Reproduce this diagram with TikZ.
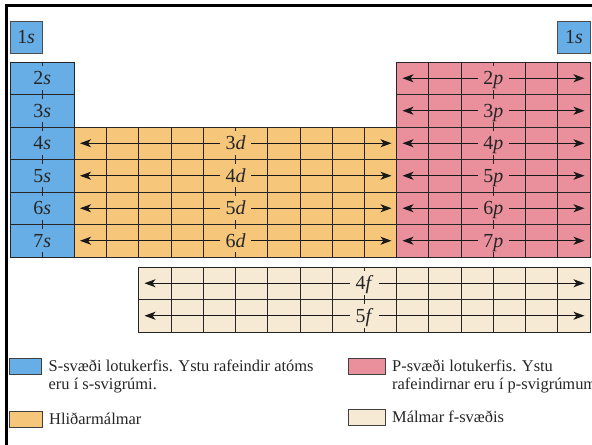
\documentclass[tikz,border=0pt]{standalone}
\usepackage{fontspec}
\setmainfont{Liberation Serif}
\usetikzlibrary{arrows.meta}
\definecolor{sblue}{RGB}{104,174,230}
\definecolor{dorange}{RGB}{246,199,122}
\definecolor{ppink}{RGB}{234,143,156}
\definecolor{fbeige}{RGB}{246,234,212}
\begin{document}
\begin{tikzpicture}[x=1bp,y=-1bp,
  gridline/.style={draw=black!85, line width=0.9bp},
  lab/.style={font=\fontsize{20}{22}\selectfont, text=black!85, inner xsep=5bp, inner ysep=2.5bp, text height=16bp, text depth=2.5bp},
  arr/.style={draw=black!90, line width=1bp, -{Stealth[length=11bp,width=8bp,inset=3bp]}},
  hbox/.style={draw=black!70, line width=0.8bp, fill=sblue, minimum width=32.2bp, minimum height=32bp, inner sep=0pt, font=\fontsize{20}{22}\selectfont, text=black!85, text height=16bp, text depth=2.5bp},
  legbox/.style={draw=black!75, line width=0.8bp, minimum height=16bp, inner sep=0pt},
  legtext/.style={font=\fontsize{16.5}{18.5}\selectfont, inner sep=0pt, align=left, anchor=north west, text=black!85}
]
\def\cw{32.2222}
\def\rh{32.5}
\useasboundingbox (0,0) rectangle (592,445);
\fill[white] (0,0) rectangle (592,445);
% frame
\draw[line width=3bp] (6.5,445) -- (6.5,5.5) -- (592,5.5);

% 1s boxes
\node[hbox] (h1l) at (26.11,37) {1\textit{s}};
\node[hbox] (h1r) at (573.89,37) {1\textit{s}};

% s-block
\fill[sblue] (10,62) rectangle (74.44,257);
\foreach \k in {1,...,5} \draw[gridline] (10,{62+\k*\rh}) -- (74.44,{62+\k*\rh});
\draw[gridline] (42.22,62) -- (42.22,257);
\draw[gridline] (10,62) rectangle (74.44,257);
\foreach \n [count=\k from 0] in {2,...,7}
  \node[lab, fill=sblue] (s\n) at (42.22,{78.25+\k*\rh}) {\n\textit{s}};

% d-block
\fill[dorange] (74.44,127) rectangle (396.67,257);
\foreach \i in {1,...,9} \draw[gridline] ({74.44+\i*\cw},127) -- ({74.44+\i*\cw},257);
\foreach \k in {1,2,3} \draw[gridline] (74.44,{127+\k*\rh}) -- (396.67,{127+\k*\rh});
\draw[gridline] (74.44,127) rectangle (396.67,257);
\foreach \n [count=\k from 0] in {3,...,6} {
  \node[lab, fill=dorange] (d\n) at (235.56,{143.25+\k*\rh}) {\n\textit{d}};
  \coordinate (d\n L) at (80,{143.25+\k*\rh});
  \coordinate (d\n R) at (391.5,{143.25+\k*\rh});
  \draw[arr] (d\n.west) -- (d\n L);
  \draw[arr] (d\n.east) -- (d\n R);
}

% p-block
\fill[ppink] (396.67,62) rectangle (590,257);
\foreach \i in {1,...,5} \draw[gridline] ({396.67+\i*\cw},62) -- ({396.67+\i*\cw},257);
\foreach \k in {1,...,5} \draw[gridline] (396.67,{62+\k*\rh}) -- (590,{62+\k*\rh});
\draw[gridline] (396.67,62) rectangle (590,257);
\foreach \n [count=\k from 0] in {2,...,7} {
  \node[lab, fill=ppink] (p\n) at (493.33,{78.25+\k*\rh}) {\n\textit{p}};
  \coordinate (p\n L) at (402.5,{78.25+\k*\rh});
  \coordinate (p\n R) at (584.5,{78.25+\k*\rh});
  \draw[arr] (p\n.west) -- (p\n L);
  \draw[arr] (p\n.east) -- (p\n R);
}

% f-block
\fill[fbeige] (138.89,267) rectangle (590,332);
\foreach \i in {1,...,13} \draw[gridline] ({138.89+\i*\cw},267) -- ({138.89+\i*\cw},332);
\draw[gridline] (138.89,299.5) -- (590,299.5);
\draw[gridline] (138.89,267) rectangle (590,332);
\foreach \n [count=\k from 0] in {4,5} {
  \node[lab, fill=fbeige] (f\n) at (364.44,{283.25+\k*\rh}) {\n\textit{f}};
  \coordinate (f\n L) at (144.5,{283.25+\k*\rh});
  \coordinate (f\n R) at (584.5,{283.25+\k*\rh});
  \draw[arr] (f\n.west) -- (f\n L);
  \draw[arr] (f\n.east) -- (f\n R);
}

% legend
\node[legbox, fill=sblue, minimum width=32bp] (ls) at (25.5,366) {};
\node[legtext] (lst) at (48.5,359.5) {S-svæði lotukerfis. Ystu rafeindir atóms\\eru í s-svigrúmi.};
\node[legbox, fill=ppink, minimum width=37bp] (lp) at (366.5,366) {};
\node[legtext] (lpt) at (392,359.5) {P-svæði lotukerfis. Ystu\\rafeindirnar eru í p-svigrúmum};
\node[legbox, fill=dorange, minimum width=33bp] (ld) at (25.5,419.5) {};
\node[legtext] (ldt) at (49,413) {Hliðarmálmar};
\node[legbox, fill=fbeige, minimum width=37bp] (lf) at (366.5,417.5) {};
\node[legtext] (lft) at (392,410.5) {Málmar f-svæðis};
\end{tikzpicture}
\end{document}
